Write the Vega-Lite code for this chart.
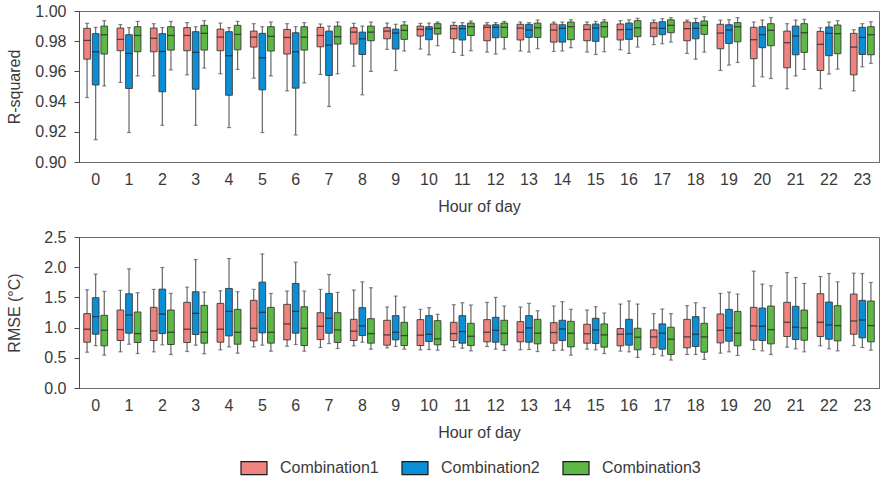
{
"$schema": "https://vega.github.io/schema/vega-lite/v6.json",
"padding": {"left": 5, "top": 2, "right": 2, "bottom": 2},
"bounds": "flush",
"spacing": 75,
"datasets": {
"r2": [
{"h":0,"c":"Combination1","lo":0.9427,"q1":0.9681,"md":0.9805,"q3":0.9885,"hi":0.9918},
{"h":0,"c":"Combination2","lo":0.9148,"q1":0.951,"md":0.973,"q3":0.985,"hi":0.9892},
{"h":0,"c":"Combination3","lo":0.9504,"q1":0.9715,"md":0.9843,"q3":0.990,"hi":0.9936},
{"h":1,"c":"Combination1","lo":0.9527,"q1":0.9737,"md":0.9812,"q3":0.9887,"hi":0.991},
{"h":1,"c":"Combination2","lo":0.9195,"q1":0.9487,"md":0.9719,"q3":0.9843,"hi":0.989},
{"h":1,"c":"Combination3","lo":0.957,"q1":0.973,"md":0.9838,"q3":0.9896,"hi":0.9931},
{"h":2,"c":"Combination1","lo":0.957,"q1":0.973,"md":0.9819,"q3":0.9887,"hi":0.9916},
{"h":2,"c":"Combination2","lo":0.9243,"q1":0.9465,"md":0.9732,"q3":0.985,"hi":0.989},
{"h":2,"c":"Combination3","lo":0.961,"q1":0.9741,"md":0.9838,"q3":0.9896,"hi":0.9931},
{"h":3,"c":"Combination1","lo":0.9577,"q1":0.9737,"md":0.9838,"q3":0.989,"hi":0.9923},
{"h":3,"c":"Combination2","lo":0.9243,"q1":0.9482,"md":0.9726,"q3":0.9863,"hi":0.9896},
{"h":3,"c":"Combination3","lo":0.9622,"q1":0.9741,"md":0.9852,"q3":0.9905,"hi":0.9936},
{"h":4,"c":"Combination1","lo":0.9584,"q1":0.9737,"md":0.9827,"q3":0.988,"hi":0.992},
{"h":4,"c":"Combination2","lo":0.9228,"q1":0.9442,"md":0.9704,"q3":0.9863,"hi":0.989},
{"h":4,"c":"Combination3","lo":0.9613,"q1":0.9743,"md":0.9845,"q3":0.9905,"hi":0.9931},
{"h":5,"c":"Combination1","lo":0.9555,"q1":0.9761,"md":0.9827,"q3":0.9867,"hi":0.9916},
{"h":5,"c":"Combination2","lo":0.9195,"q1":0.9478,"md":0.969,"q3":0.9852,"hi":0.9896},
{"h":5,"c":"Combination3","lo":0.957,"q1":0.9735,"md":0.9832,"q3":0.9896,"hi":0.9927},
{"h":6,"c":"Combination1","lo":0.9471,"q1":0.9715,"md":0.9825,"q3":0.9878,"hi":0.9916},
{"h":6,"c":"Combination2","lo":0.9179,"q1":0.9489,"md":0.973,"q3":0.9856,"hi":0.9896},
{"h":6,"c":"Combination3","lo":0.9524,"q1":0.9741,"md":0.9827,"q3":0.9896,"hi":0.9923},
{"h":7,"c":"Combination1","lo":0.958,"q1":0.9763,"md":0.9838,"q3":0.9892,"hi":0.9914},
{"h":7,"c":"Combination2","lo":0.9367,"q1":0.9573,"md":0.9774,"q3":0.9867,"hi":0.99},
{"h":7,"c":"Combination3","lo":0.9584,"q1":0.9781,"md":0.983,"q3":0.99,"hi":0.9927},
{"h":8,"c":"Combination1","lo":0.9635,"q1":0.9781,"md":0.986,"q3":0.989,"hi":0.9918},
{"h":8,"c":"Combination2","lo":0.9445,"q1":0.9712,"md":0.9816,"q3":0.986,"hi":0.99},
{"h":8,"c":"Combination3","lo":0.96,"q1":0.9803,"md":0.986,"q3":0.99,"hi":0.9927},
{"h":9,"c":"Combination1","lo":0.9746,"q1":0.9816,"md":0.9867,"q3":0.989,"hi":0.992},
{"h":9,"c":"Combination2","lo":0.9606,"q1":0.9748,"md":0.9854,"q3":0.988,"hi":0.9912},
{"h":9,"c":"Combination3","lo":0.9735,"q1":0.9812,"md":0.9872,"q3":0.9907,"hi":0.9929},
{"h":10,"c":"Combination1","lo":0.9748,"q1":0.9834,"md":0.9878,"q3":0.99,"hi":0.9918},
{"h":10,"c":"Combination2","lo":0.971,"q1":0.981,"md":0.988,"q3":0.9896,"hi":0.992},
{"h":10,"c":"Combination3","lo":0.977,"q1":0.9847,"md":0.9885,"q3":0.9916,"hi":0.9927},
{"h":11,"c":"Combination1","lo":0.9726,"q1":0.9816,"md":0.9883,"q3":0.9905,"hi":0.9925},
{"h":11,"c":"Combination2","lo":0.9706,"q1":0.9808,"md":0.9883,"q3":0.9903,"hi":0.9923},
{"h":11,"c":"Combination3","lo":0.9737,"q1":0.9838,"md":0.9896,"q3":0.992,"hi":0.9934},
{"h":12,"c":"Combination1","lo":0.9728,"q1":0.9803,"md":0.9892,"q3":0.9907,"hi":0.9923},
{"h":12,"c":"Combination2","lo":0.9715,"q1":0.9823,"md":0.9892,"q3":0.9909,"hi":0.9923},
{"h":12,"c":"Combination3","lo":0.9748,"q1":0.9825,"md":0.9892,"q3":0.992,"hi":0.9931},
{"h":13,"c":"Combination1","lo":0.9735,"q1":0.9808,"md":0.9887,"q3":0.9912,"hi":0.9927},
{"h":13,"c":"Combination2","lo":0.9728,"q1":0.9825,"md":0.9874,"q3":0.9912,"hi":0.9923},
{"h":13,"c":"Combination3","lo":0.975,"q1":0.9825,"md":0.9889,"q3":0.992,"hi":0.994},
{"h":14,"c":"Combination1","lo":0.9732,"q1":0.9794,"md":0.9874,"q3":0.9914,"hi":0.9927},
{"h":14,"c":"Combination2","lo":0.9735,"q1":0.9794,"md":0.9885,"q3":0.9909,"hi":0.9927},
{"h":14,"c":"Combination3","lo":0.9757,"q1":0.981,"md":0.9896,"q3":0.9927,"hi":0.9942},
{"h":15,"c":"Combination1","lo":0.9728,"q1":0.9803,"md":0.9878,"q3":0.9909,"hi":0.9927},
{"h":15,"c":"Combination2","lo":0.9712,"q1":0.9799,"md":0.9887,"q3":0.9914,"hi":0.9931},
{"h":15,"c":"Combination3","lo":0.973,"q1":0.9827,"md":0.9896,"q3":0.9927,"hi":0.9942},
{"h":16,"c":"Combination1","lo":0.9743,"q1":0.9808,"md":0.9876,"q3":0.9914,"hi":0.9936},
{"h":16,"c":"Combination2","lo":0.9719,"q1":0.9812,"md":0.9878,"q3":0.992,"hi":0.9942},
{"h":16,"c":"Combination3","lo":0.9761,"q1":0.983,"md":0.9889,"q3":0.9936,"hi":0.9951},
{"h":17,"c":"Combination1","lo":0.9777,"q1":0.983,"md":0.9887,"q3":0.9923,"hi":0.994},
{"h":17,"c":"Combination2","lo":0.9783,"q1":0.9843,"md":0.9885,"q3":0.9929,"hi":0.9949},
{"h":17,"c":"Combination3","lo":0.9794,"q1":0.9856,"md":0.9905,"q3":0.9942,"hi":0.9956},
{"h":18,"c":"Combination1","lo":0.9719,"q1":0.9803,"md":0.9883,"q3":0.9927,"hi":0.994},
{"h":18,"c":"Combination2","lo":0.9681,"q1":0.9816,"md":0.9885,"q3":0.9923,"hi":0.9951},
{"h":18,"c":"Combination3","lo":0.9728,"q1":0.9845,"md":0.9905,"q3":0.9934,"hi":0.9962},
{"h":19,"c":"Combination1","lo":0.9606,"q1":0.975,"md":0.9854,"q3":0.9912,"hi":0.994},
{"h":19,"c":"Combination2","lo":0.9642,"q1":0.9785,"md":0.9874,"q3":0.9909,"hi":0.9942},
{"h":19,"c":"Combination3","lo":0.9659,"q1":0.9796,"md":0.9896,"q3":0.9923,"hi":0.9956},
{"h":20,"c":"Combination1","lo":0.9502,"q1":0.9684,"md":0.981,"q3":0.9892,"hi":0.9927},
{"h":20,"c":"Combination2","lo":0.9564,"q1":0.9757,"md":0.9843,"q3":0.9896,"hi":0.994},
{"h":20,"c":"Combination3","lo":0.9553,"q1":0.977,"md":0.9872,"q3":0.9916,"hi":0.9956},
{"h":21,"c":"Combination1","lo":0.9485,"q1":0.9624,"md":0.979,"q3":0.9867,"hi":0.9916},
{"h":21,"c":"Combination2","lo":0.957,"q1":0.971,"md":0.9834,"q3":0.99,"hi":0.994},
{"h":21,"c":"Combination3","lo":0.9613,"q1":0.9726,"md":0.9856,"q3":0.9916,"hi":0.9945},
{"h":22,"c":"Combination1","lo":0.9485,"q1":0.9606,"md":0.9779,"q3":0.9865,"hi":0.9889},
{"h":22,"c":"Combination2","lo":0.9582,"q1":0.9704,"md":0.9852,"q3":0.9894,"hi":0.9927},
{"h":22,"c":"Combination3","lo":0.9615,"q1":0.9717,"md":0.985,"q3":0.9907,"hi":0.9936},
{"h":23,"c":"Combination1","lo":0.9471,"q1":0.9577,"md":0.9761,"q3":0.9852,"hi":0.9876},
{"h":23,"c":"Combination2","lo":0.963,"q1":0.9712,"md":0.9825,"q3":0.9892,"hi":0.9916},
{"h":23,"c":"Combination3","lo":0.9653,"q1":0.971,"md":0.9843,"q3":0.9896,"hi":0.9929}
],
"rmse": [
{"h":0,"c":"Combination1","lo":0.593,"q1":0.758,"md":0.973,"q3":1.231,"hi":1.627},
{"h":0,"c":"Combination2","lo":0.703,"q1":0.89,"md":1.181,"q3":1.495,"hi":1.885},
{"h":0,"c":"Combination3","lo":0.544,"q1":0.698,"md":0.956,"q3":1.203,"hi":1.599},
{"h":1,"c":"Combination1","lo":0.599,"q1":0.786,"md":0.967,"q3":1.291,"hi":1.615},
{"h":1,"c":"Combination2","lo":0.725,"q1":0.907,"md":1.209,"q3":1.56,"hi":1.973},
{"h":1,"c":"Combination3","lo":0.571,"q1":0.753,"md":0.901,"q3":1.258,"hi":1.577},
{"h":2,"c":"Combination1","lo":0.599,"q1":0.786,"md":0.945,"q3":1.335,"hi":1.632},
{"h":2,"c":"Combination2","lo":0.714,"q1":0.901,"md":1.225,"q3":1.637,"hi":1.995},
{"h":2,"c":"Combination3","lo":0.555,"q1":0.72,"md":0.923,"q3":1.291,"hi":1.566},
{"h":3,"c":"Combination1","lo":0.604,"q1":0.753,"md":0.973,"q3":1.418,"hi":1.67},
{"h":3,"c":"Combination2","lo":0.709,"q1":0.885,"md":1.236,"q3":1.594,"hi":2.127},
{"h":3,"c":"Combination3","lo":0.566,"q1":0.742,"md":0.923,"q3":1.368,"hi":1.588},
{"h":4,"c":"Combination1","lo":0.632,"q1":0.758,"md":0.973,"q3":1.401,"hi":1.61},
{"h":4,"c":"Combination2","lo":0.681,"q1":0.863,"md":1.269,"q3":1.648,"hi":2.143},
{"h":4,"c":"Combination3","lo":0.577,"q1":0.725,"md":0.923,"q3":1.302,"hi":1.594},
{"h":5,"c":"Combination1","lo":0.681,"q1":0.78,"md":0.989,"q3":1.451,"hi":1.632},
{"h":5,"c":"Combination2","lo":0.709,"q1":0.912,"md":1.253,"q3":1.753,"hi":2.22},
{"h":5,"c":"Combination3","lo":0.61,"q1":0.742,"md":0.923,"q3":1.335,"hi":1.566},
{"h":6,"c":"Combination1","lo":0.692,"q1":0.797,"md":1.061,"q3":1.385,"hi":1.605},
{"h":6,"c":"Combination2","lo":0.72,"q1":0.907,"md":1.269,"q3":1.731,"hi":2.083},
{"h":6,"c":"Combination3","lo":0.61,"q1":0.703,"md":0.989,"q3":1.346,"hi":1.605},
{"h":7,"c":"Combination1","lo":0.67,"q1":0.802,"md":1.022,"q3":1.247,"hi":1.632},
{"h":7,"c":"Combination2","lo":0.736,"q1":0.907,"md":1.154,"q3":1.566,"hi":1.879},
{"h":7,"c":"Combination3","lo":0.654,"q1":0.753,"md":0.962,"q3":1.247,"hi":1.583},
{"h":8,"c":"Combination1","lo":0.698,"q1":0.786,"md":0.94,"q3":1.137,"hi":1.621},
{"h":8,"c":"Combination2","lo":0.758,"q1":0.868,"md":1.028,"q3":1.33,"hi":1.758},
{"h":8,"c":"Combination3","lo":0.643,"q1":0.742,"md":0.901,"q3":1.148,"hi":1.66},
{"h":9,"c":"Combination1","lo":0.665,"q1":0.709,"md":0.879,"q3":1.121,"hi":1.341},
{"h":9,"c":"Combination2","lo":0.687,"q1":0.797,"md":0.923,"q3":1.198,"hi":1.522},
{"h":9,"c":"Combination3","lo":0.643,"q1":0.703,"md":0.868,"q3":1.088,"hi":1.341},
{"h":10,"c":"Combination1","lo":0.632,"q1":0.703,"md":0.874,"q3":1.132,"hi":1.302},
{"h":10,"c":"Combination2","lo":0.637,"q1":0.769,"md":0.89,"q3":1.198,"hi":1.33},
{"h":10,"c":"Combination3","lo":0.626,"q1":0.714,"md":0.813,"q3":1.115,"hi":1.22},
{"h":11,"c":"Combination1","lo":0.681,"q1":0.786,"md":0.901,"q3":1.088,"hi":1.379},
{"h":11,"c":"Combination2","lo":0.659,"q1":0.742,"md":0.934,"q3":1.198,"hi":1.412},
{"h":11,"c":"Combination3","lo":0.615,"q1":0.703,"md":0.857,"q3":1.071,"hi":1.374},
{"h":12,"c":"Combination1","lo":0.687,"q1":0.764,"md":0.923,"q3":1.132,"hi":1.418},
{"h":12,"c":"Combination2","lo":0.643,"q1":0.758,"md":0.956,"q3":1.17,"hi":1.5},
{"h":12,"c":"Combination3","lo":0.621,"q1":0.714,"md":0.907,"q3":1.121,"hi":1.357},
{"h":13,"c":"Combination1","lo":0.632,"q1":0.764,"md":0.923,"q3":1.099,"hi":1.341},
{"h":13,"c":"Combination2","lo":0.637,"q1":0.758,"md":0.995,"q3":1.198,"hi":1.401},
{"h":13,"c":"Combination3","lo":0.604,"q1":0.731,"md":0.907,"q3":1.137,"hi":1.28},
{"h":14,"c":"Combination1","lo":0.621,"q1":0.742,"md":0.918,"q3":1.082,"hi":1.357},
{"h":14,"c":"Combination2","lo":0.626,"q1":0.786,"md":0.978,"q3":1.121,"hi":1.429},
{"h":14,"c":"Combination3","lo":0.544,"q1":0.681,"md":0.907,"q3":1.104,"hi":1.302},
{"h":15,"c":"Combination1","lo":0.643,"q1":0.742,"md":0.896,"q3":1.055,"hi":1.291},
{"h":15,"c":"Combination2","lo":0.632,"q1":0.736,"md":0.962,"q3":1.154,"hi":1.346},
{"h":15,"c":"Combination3","lo":0.571,"q1":0.676,"md":0.879,"q3":1.061,"hi":1.242},
{"h":16,"c":"Combination1","lo":0.61,"q1":0.698,"md":0.89,"q3":0.984,"hi":1.39},
{"h":16,"c":"Combination2","lo":0.599,"q1":0.709,"md":0.896,"q3":1.137,"hi":1.44},
{"h":16,"c":"Combination3","lo":0.506,"q1":0.632,"md":0.841,"q3":0.989,"hi":1.39},
{"h":17,"c":"Combination1","lo":0.555,"q1":0.665,"md":0.846,"q3":0.962,"hi":1.231},
{"h":17,"c":"Combination2","lo":0.533,"q1":0.643,"md":0.907,"q3":1.061,"hi":1.308},
{"h":17,"c":"Combination3","lo":0.462,"q1":0.555,"md":0.808,"q3":1.006,"hi":1.231},
{"h":18,"c":"Combination1","lo":0.555,"q1":0.665,"md":0.846,"q3":1.137,"hi":1.363},
{"h":18,"c":"Combination2","lo":0.555,"q1":0.687,"md":0.89,"q3":1.181,"hi":1.412},
{"h":18,"c":"Combination3","lo":0.473,"q1":0.593,"md":0.846,"q3":1.071,"hi":1.33},
{"h":19,"c":"Combination1","lo":0.577,"q1":0.747,"md":0.956,"q3":1.225,"hi":1.566},
{"h":19,"c":"Combination2","lo":0.599,"q1":0.775,"md":0.995,"q3":1.302,"hi":1.588},
{"h":19,"c":"Combination3","lo":0.538,"q1":0.698,"md":0.907,"q3":1.269,"hi":1.555},
{"h":20,"c":"Combination1","lo":0.637,"q1":0.791,"md":1.028,"q3":1.335,"hi":1.934},
{"h":20,"c":"Combination2","lo":0.615,"q1":0.786,"md":1.022,"q3":1.324,"hi":1.72},
{"h":20,"c":"Combination3","lo":0.555,"q1":0.731,"md":0.967,"q3":1.357,"hi":1.692},
{"h":21,"c":"Combination1","lo":0.676,"q1":0.852,"md":1.088,"q3":1.418,"hi":1.912},
{"h":21,"c":"Combination2","lo":0.648,"q1":0.802,"md":1.006,"q3":1.352,"hi":1.83},
{"h":21,"c":"Combination3","lo":0.599,"q1":0.791,"md":0.995,"q3":1.291,"hi":1.731},
{"h":22,"c":"Combination1","lo":0.698,"q1":0.852,"md":1.088,"q3":1.561,"hi":1.846},
{"h":22,"c":"Combination2","lo":0.648,"q1":0.808,"md":1.044,"q3":1.423,"hi":1.896},
{"h":22,"c":"Combination3","lo":0.615,"q1":0.78,"md":1.033,"q3":1.363,"hi":1.758},
{"h":23,"c":"Combination1","lo":0.703,"q1":0.89,"md":1.11,"q3":1.555,"hi":1.901},
{"h":23,"c":"Combination2","lo":0.67,"q1":0.83,"md":1.126,"q3":1.451,"hi":1.896},
{"h":23,"c":"Combination3","lo":0.626,"q1":0.764,"md":1.033,"q3":1.44,"hi":1.747}
]
},
"config": {
"font": "Liberation Sans",
"view": {"stroke": "#6e6e6e", "strokeWidth": 1},
"axis": {"grid": false, "labelFontSize": 16, "titleFontSize": 16, "titleFontWeight": "normal", "labelColor": "#3a3a3a", "titleColor": "#3a3a3a", "domainColor": "#4a4a4a", "tickColor": "#4a4a4a", "labelFont": "Liberation Sans", "titleFont": "Liberation Sans"},
"axisX": {"ticks": false, "tickSize": 0, "labelAngle": 0, "labelPadding": 9, "titlePadding": 11, "domainColor": "#6e6e6e"},
"axisY": {"tickSize": 5, "labelPadding": 8, "labelOverlap": false, "labelBound": false, "tickCount": 20},
"legend": {"labelFontSize": 16, "labelColor": "#3a3a3a", "labelFont": "Liberation Sans"}
},
"vconcat": [
{
"data": {"name": "r2"},
"width": 800, "height": 151,
"encoding": {
"x": {"field": "h", "type": "ordinal", "title": "Hour of day", "scale": {"paddingInner": 0, "paddingOuter": 0}},
"xOffset": {"field": "c", "type": "nominal", "scale": {"paddingInner": 0.22, "paddingOuter": 0.55}}
},
"layer": [
{"mark": {"type": "rule", "color": "#666666", "strokeWidth": 1.2},
 "encoding": {"y": {"field": "lo", "type": "quantitative", "scale": {"domain": [0.9, 1.0], "nice": false, "zero": false}, "axis": {"title": "R-squared", "values": [0.9, 0.92, 0.94, 0.96, 0.98, 1.0], "tickCount": 20, "format": ".2f", "titleX": -57, "labelOverlap": false}}, "y2": {"field": "hi"}}},
{"mark": {"type": "tick", "color": "#555555", "size": 4, "thickness": 1.2}, "encoding": {"y": {"field": "lo", "type": "quantitative"}}},
{"mark": {"type": "tick", "color": "#555555", "size": 4, "thickness": 1.2}, "encoding": {"y": {"field": "hi", "type": "quantitative"}}},
{"mark": {"type": "bar", "stroke": "#3a3a3a", "strokeWidth": 0.9, "opacity": 1},
 "encoding": {"y": {"field": "q1", "type": "quantitative"}, "y2": {"field": "q3"},
  "color": {"field": "c", "type": "nominal", "scale": {"domain": ["Combination1", "Combination2", "Combination3"], "range": ["#F0837F", "#0A8ED6", "#5DB846"]},
   "legend": {"title": null, "orient": "none", "legendX": 161, "legendY": 443, "direction": "horizontal", "symbolType": "M-1,-0.5H1V0.5H-1Z", "symbolSize": 676, "symbolStrokeColor": "#1a1a1a", "symbolStrokeWidth": 1.2, "symbolOpacity": 1, "labelOffset": 12, "columnPadding": 20}}}},
{"mark": {"type": "tick", "color": "#1e1e1e", "size": 7, "thickness": 1.3}, "encoding": {"y": {"field": "md", "type": "quantitative"}}}
]
},
{
"data": {"name": "rmse"},
"width": 800, "height": 151,
"encoding": {
"x": {"field": "h", "type": "ordinal", "title": "Hour of day", "scale": {"paddingInner": 0, "paddingOuter": 0}},
"xOffset": {"field": "c", "type": "nominal", "scale": {"paddingInner": 0.22, "paddingOuter": 0.55}}
},
"layer": [
{"mark": {"type": "rule", "color": "#666666", "strokeWidth": 1.2},
 "encoding": {"y": {"field": "lo", "type": "quantitative", "scale": {"domain": [0, 2.5], "nice": false}, "axis": {"title": "RMSE (°C)", "values": [0, 0.5, 1.0, 1.5, 2.0, 2.5], "tickCount": 20, "format": ".1f", "titleX": -57, "labelOverlap": false}}, "y2": {"field": "hi"}}},
{"mark": {"type": "tick", "color": "#555555", "size": 4, "thickness": 1.2}, "encoding": {"y": {"field": "lo", "type": "quantitative"}}},
{"mark": {"type": "tick", "color": "#555555", "size": 4, "thickness": 1.2}, "encoding": {"y": {"field": "hi", "type": "quantitative"}}},
{"mark": {"type": "bar", "stroke": "#3a3a3a", "strokeWidth": 0.9, "opacity": 1},
 "encoding": {"y": {"field": "q1", "type": "quantitative"}, "y2": {"field": "q3"},
  "color": {"field": "c", "type": "nominal", "scale": {"domain": ["Combination1", "Combination2", "Combination3"], "range": ["#F0837F", "#0A8ED6", "#5DB846"]},
   "legend": {"title": null, "orient": "none", "legendX": 161, "legendY": 443, "direction": "horizontal", "symbolType": "M-1,-0.5H1V0.5H-1Z", "symbolSize": 676, "symbolStrokeColor": "#1a1a1a", "symbolStrokeWidth": 1.2, "symbolOpacity": 1, "labelOffset": 12, "columnPadding": 20}}}},
{"mark": {"type": "tick", "color": "#1e1e1e", "size": 7, "thickness": 1.3}, "encoding": {"y": {"field": "md", "type": "quantitative"}}}
]
}
]
}
